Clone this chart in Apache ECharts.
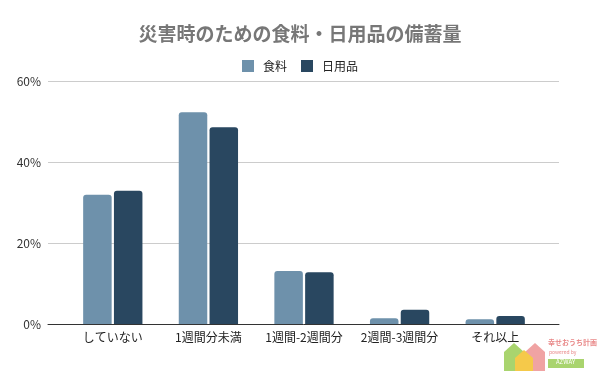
<!DOCTYPE html>
<html>
<head>
<meta charset="utf-8">
<script src="https://cdn.jsdelivr.net/npm/echarts@6/dist/echarts.min.js"></script>
<style>html,body{margin:0;padding:0;background:#fff}#c{width:600px;height:371px}</style>
</head>
<body>
<div id="c"></div>
<script>
const categories = ['していない', '1週間分未満', '1週間-2週間分', '2週間-3週間分', 'それ以上'];
const foodValues = [31.9, 52.3, 13.1, 1.4, 1.2];
const dailyValues = [32.9, 48.6, 12.8, 3.5, 2.0];
const seriesNames = ['食料', '日用品'];
const yTicks = { min: 0, max: 60, interval: 20 };

const font = '"Noto Sans CJK JP", "Noto Sans", sans-serif';
const chart = echarts.init(document.getElementById('c'), null, { renderer: 'canvas' });
chart.setOption({
  backgroundColor: '#fff',
  animation: false,
  title: {
    text: '災害時のための食料・日用品の備蓄量',
    left: 'center', top: 19,
    textStyle: { fontFamily: font, fontSize: 19, fontWeight: 'bold', color: '#777777' }
  },
  legend: {
    data: seriesNames,
    left: 'center', top: 55,
    itemWidth: 12, itemHeight: 12, itemGap: 14,
    icon: 'rect',
    textStyle: { fontFamily: font, fontSize: 12, color: '#222', padding: [0, 0, 0, 4] }
  },
  grid: [
    { left: 48, right: 41, top: 81, bottom: 47 },
    { left: 65, right: 57, top: 81, bottom: 47 }
  ],
  xAxis: [
    { gridIndex: 0, type: 'category', data: [''], axisLine: { show: true, lineStyle: { color: '#333', width: 1 } },
      axisTick: { show: false }, axisLabel: { show: false }, z: 5 },
    { gridIndex: 1, type: 'category', data: categories, axisLine: { show: false }, axisTick: { show: false },
      axisLabel: { interval: 0, fontFamily: font, fontSize: 12, color: '#222', margin: 7 } }
  ],
  yAxis: [
    { gridIndex: 0, type: 'value', min: yTicks.min, max: yTicks.max, interval: yTicks.interval,
      axisLabel: { formatter: '{value}%', fontFamily: font, fontSize: 12, color: '#333', margin: 7 },
      splitLine: { lineStyle: { color: '#cccccc', width: 1 } },
      axisLine: { show: false }, axisTick: { show: false } },
    { gridIndex: 1, type: 'value', min: yTicks.min, max: yTicks.max, interval: yTicks.interval,
      show: false, splitLine: { show: false } }
  ],
  series: [
    { name: seriesNames[0], type: 'bar', xAxisIndex: 1, yAxisIndex: 1, data: foodValues,
      barWidth: 28.5, barGap: '8%', itemStyle: { color: '#6e91ab', borderRadius: [3, 3, 0, 0] } },
    { name: seriesNames[1], type: 'bar', xAxisIndex: 1, yAxisIndex: 1, data: dailyValues,
      barWidth: 28.5, barGap: '8%', itemStyle: { color: '#294760', borderRadius: [3, 3, 0, 0] } }
  ],
  graphic: [
    { type: 'polygon', shape: { points: [[504, 371], [504, 352], [514, 343], [524, 352], [524, 371]] },
      style: { fill: '#a9d46e' } },
    { type: 'polygon', shape: { points: [[525, 371], [525, 352], [535, 343], [545, 352], [545, 371]] },
      style: { fill: '#f0a3a3' } },
    { type: 'polygon', shape: { points: [[515, 371], [515, 358], [524, 350], [533, 358], [533, 371]] },
      style: { fill: '#f5c94a' } },
    { type: 'text', left: 548, top: 339,
      style: { text: '幸せおうち計画', fontFamily: font, fontSize: 7, fontWeight: 'bold', fill: '#e98a8a' } },
    { type: 'text', left: 549, top: 350,
      style: { text: 'powered by', fontFamily: font, fontSize: 5, fill: '#e98a8a' } },
    { type: 'rect', shape: { x: 548, y: 359, width: 36, height: 9 }, style: { fill: '#a9d46e' } },
    { type: 'text', left: 556, top: 359,
      style: { text: 'AZWAY', fontFamily: font, fontSize: 6, fill: '#fff' } }
  ]
});
</script>
</body>
</html>
